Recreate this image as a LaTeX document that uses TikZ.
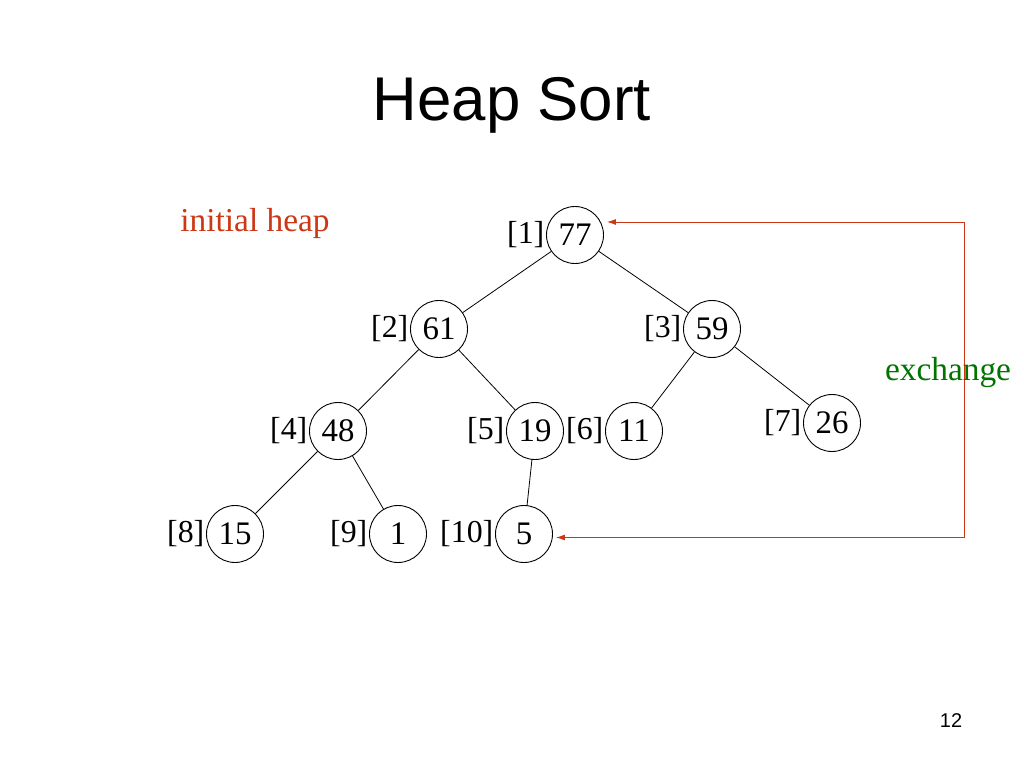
\documentclass[tikz,border=0pt]{standalone}
\usepackage{fontspec}
\setmainfont{Liberation Serif}
\newfontfamily\titlefont{Liberation Sans}
\usetikzlibrary{positioning, arrows.meta}
\definecolor{heapred}{RGB}{204,55,20}
\definecolor{heapgreen}{RGB}{0,115,0}

\begin{document}
\begin{tikzpicture}[x=1bp, y=-1bp,
    key/.style={draw, circle, minimum size=57bp, inner sep=0pt, line width=0.9bp, font=\fontsize{33}{36}\selectfont},
    idx/.style={inner sep=1.5bp, font=\fontsize{32}{36}\selectfont},
    note/.style={anchor=base, font=\fontsize{33.5}{38}\selectfont},
    branch/.style={line width=0.8bp},
    exch/.style={heapred, line width=0.9bp, {Latex[length=9bp,width=6bp]}-{Latex[length=9bp,width=6bp]}}]
  \useasboundingbox (0,0) rectangle (1024,768);

  % Title
  \node[anchor=base, font=\titlefont\fontsize{62}{70}\selectfont] (title) at (512,120) {Heap Sort};

  % Heap nodes
  \node[key] (n77) at (575,235) {77};
  \node[key] (n61) at (439,329) {61};
  \node[key] (n59) at (712,329) {59};
  \node[key] (n48) at (338,431) {48};
  \node[key] (n19) at (535,431) {19};
  \node[key] (n11) at (634,431) {11};
  \node[key] (n26) at (832,423) {26};
  \node[key] (n15) at (235,534) {15};
  \node[key] (n1)  at (398,534) {1};
  \node[key] (n5)  at (524,534) {5};

  % Indices
  \node[idx, left=0pt of n77] (i1) {[1]};
  \node[idx, left=0pt of n61] (i2) {[2]};
  \node[idx, left=0pt of n59] (i3) {[3]};
  \node[idx, left=0pt of n48] (i4) {[4]};
  \node[idx, left=0pt of n19] (i5) {[5]};
  \node[idx, left=0pt of n11] (i6) {[6]};
  \node[idx, left=0pt of n26] (i7) {[7]};
  \node[idx, left=0pt of n15] (i8) {[8]};
  \node[idx, left=0pt of n1]  (i9) {[9]};
  \node[idx, left=0pt of n5]  (i10) {[10]};

  % Branches
  \draw[branch] (n77) -- (n61);
  \draw[branch] (n77) -- (n59);
  \draw[branch] (n61) -- (n48);
  \draw[branch] (n61) -- (n19);
  \draw[branch] (n59) -- (n11);
  \draw[branch] (n59) -- (n26);
  \draw[branch] (n48) -- (n15);
  \draw[branch] (n48) -- (n1);
  \draw[branch] (n19) -- (n5);

  % Exchange of first and last
  \coordinate (tr) at (964,222);
  \coordinate (br) at (964,537.5);
  \draw[exch] ([xshift=3bp]n77.east |- tr) -- (tr) -- (br) -- ([xshift=3bp]n5.east |- br);

  % Notes
  \node[note, heapred] (init) at (255,231) {initial heap};
  \node[note, heapgreen] (xch) at (948,380) {exchange};

  % Page number
  \node[anchor=base, font=\titlefont\fontsize{20}{24}\selectfont] (page) at (951,727) {12};
\end{tikzpicture}
\end{document}
